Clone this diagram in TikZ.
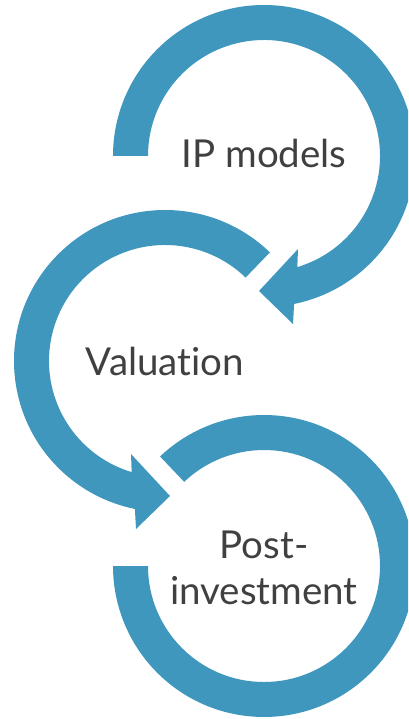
\documentclass[tikz,border=0pt]{standalone}
\usepackage{fontspec}
\setmainfont{Lato}[Ligatures={NoCommon,NoContextual}]
\definecolor{arcblue}{RGB}{63,151,190}
\definecolor{txtgrey}{RGB}{64,64,64}
\begin{document}
\begin{tikzpicture}[x=1pt,y=-1pt,
  ring/.style={fill=arcblue, draw=none},
  lbl/.style={text=txtgrey, font=\fontsize{38.5}{46}\selectfont, inner sep=0pt, align=center}]
\useasboundingbox (0,0) rectangle (408,719);
\clip (0,0) rectangle (408,719);
% arc 1 (IP models), clockwise, head at bottom pointing left
\begin{scope}[shift={(264,156)}]
\fill[ring] (180:151) arc[start angle=180, end angle=438.5, radius=151]
  -- (29,168) -- (-5,135) -- (34,93) -- (433.3:116)
  arc[start angle=433.3, end angle=180, radius=116] -- cycle;
\end{scope}
% arc 2 (Valuation), counter-clockwise, head at bottom pointing right
\begin{scope}[shift={(165,361)}]
\fill[ring] (-46:151) arc[start angle=-46, end angle=-258.5, radius=151]
  -- (-29,168) -- (5,135) -- (-34,93) -- (-253.3:116)
  arc[start angle=-253.3, end angle=-46, radius=116] -- cycle;
\end{scope}
% arc 3 (Post-investment), clockwise, no head
\begin{scope}[shift={(264,566)}]
\fill[ring] (-133.5:151) arc[start angle=-133.5, end angle=180, radius=151]
  -- (180:116) arc[start angle=180, end angle=-133.5, radius=116] -- cycle;
\end{scope}
\node[lbl, anchor=base] (ip) at (264,168) {IP models};
\node[lbl, anchor=base] (val) at (165,375) {Valuation};
\node[lbl, anchor=base] (post) at (264,604) {Post-\\investment};
\end{tikzpicture}
\end{document}
